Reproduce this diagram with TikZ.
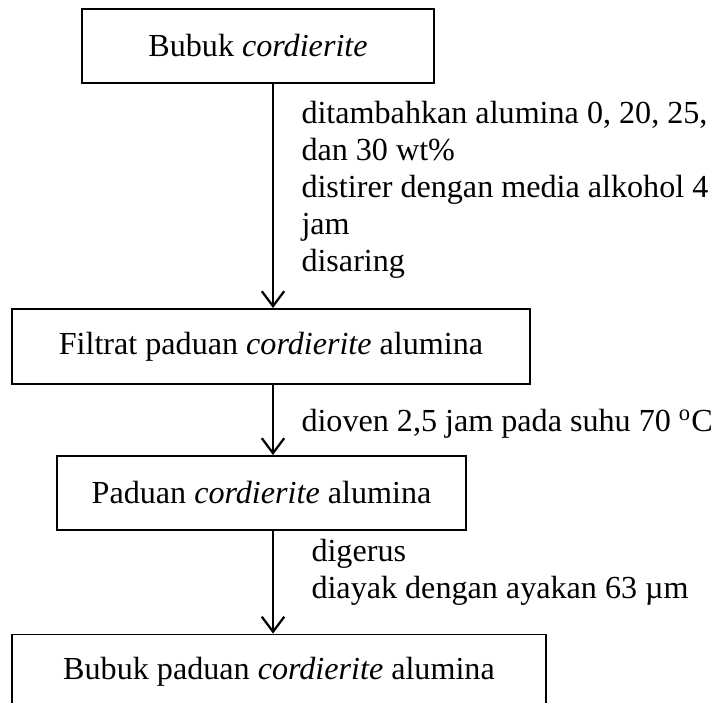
\documentclass[tikz,border=0pt]{standalone}
\usepackage{fontspec}
\setmainfont{Liberation Serif}
\usetikzlibrary{arrows.meta, positioning}

\begin{document}
\begin{tikzpicture}[x=0.4pt, y=-0.4pt,
  every node/.style={font=\fontsize{12.85}{14.8}\selectfont},
  box/.style={draw, line width=0.75pt, inner sep=0pt},
  flow/.style={-{Straight Barb[length=6pt, width=9pt]}, line width=0.9pt},
  note/.style={anchor=north west, align=left, inner sep=0pt}]
  \useasboundingbox (0,0) rectangle (726,702);

  % Boxes
  \node[box, minimum width=140.8pt, minimum height=29.6pt] (bubuk) at (258,46) {Bubuk \textit{cordierite}};
  \node[box, minimum width=207.2pt, minimum height=30pt] (filtrat) at (271,346.5) {Filtrat paduan \textit{cordierite} alumina};
  \node[box, minimum width=163.6pt, minimum height=29.6pt] (paduan) at (261.5,493) {Paduan \textit{cordierite} alumina};
  \node[box, minimum width=213.6pt, minimum height=30pt] (serbuk) at (279,672) {Bubuk paduan \textit{cordierite} alumina};

  % Arrows
  \coordinate (axis) at (273,0);
  \draw[flow] (bubuk.south -| axis) -- (filtrat.north -| axis);
  \draw[flow] (filtrat.south -| axis) -- (paduan.north -| axis);
  \draw[flow] (paduan.south -| axis) -- (serbuk.north -| axis);

  % Process notes
  \node[note] (campur) at (301,101) {ditambahkan alumina 0, 20, 25,\\dan 30 wt\%\\distirer dengan media alkohol 4\\jam\\disaring};
  \node[note] (oven) at (301,409) {dioven 2,5 jam pada suhu 70 \textsuperscript{o}C};
  \node[note] (gerus) at (311,539) {digerus\\diayak dengan ayakan 63 µm};
\end{tikzpicture}
\end{document}
